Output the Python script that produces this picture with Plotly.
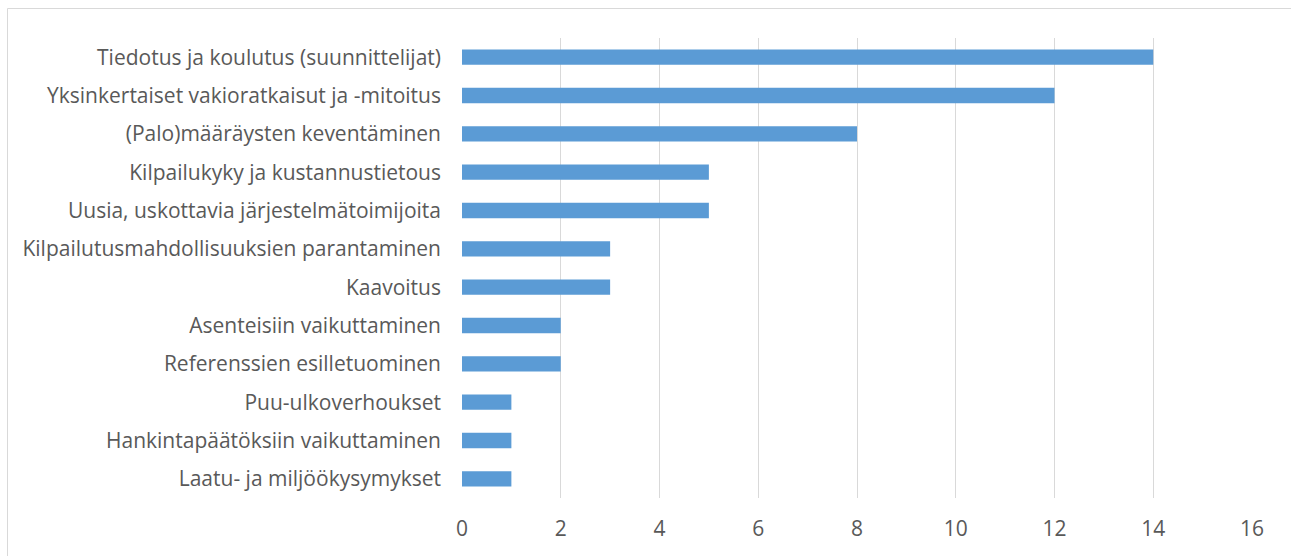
import plotly.graph_objects as go

categories = [
    "Tiedotus ja koulutus (suunnittelijat)",
    "Yksinkertaiset vakioratkaisut ja -mitoitus",
    "(Palo)määräysten keventäminen",
    "Kilpailukyky ja kustannustietous",
    "Uusia, uskottavia järjestelmätoimijoita",
    "Kilpailutusmahdollisuuksien parantaminen",
    "Kaavoitus",
    "Asenteisiin vaikuttaminen",
    "Referenssien esilletuominen",
    "Puu-ulkoverhoukset",
    "Hankintapäätöksiin vaikuttaminen",
    "Laatu- ja miljöökysymykset",
]
values = [14, 12, 8, 5, 5, 3, 3, 2, 2, 1, 1, 1]
x_ticks = [0, 2, 4, 6, 8, 10, 12, 14, 16]

fig = go.Figure(go.Bar(
    y=categories, x=values, orientation="h",
    marker=dict(color="#5B9BD5", line=dict(width=0)),
))

W, H = 1291, 556
L, R, T, B = 462, 39, 38, 58

fig.update_layout(
    width=W, height=H,
    margin=dict(l=L, r=R, t=T, b=B),
    paper_bgcolor="white", plot_bgcolor="white",
    bargap=0.6,
    font=dict(family="Open Sans, sans-serif", size=21, color="#595959"),
    showlegend=False,
    xaxis=dict(range=[0, 16], tickvals=x_ticks, showgrid=True, gridcolor="#D9D9D9",
               gridwidth=1, zeroline=False, showline=False, ticks="",
               ticklabelstandoff=16, fixedrange=True),
    yaxis=dict(autorange="reversed", showgrid=False, zeroline=False, showline=False,
               ticks="", ticklabelstandoff=20, fixedrange=True),
    shapes=[dict(type="rect", xref="paper", yref="paper",
                 x0=-(L - 7.5) / (W - L - R), x1=(W - L + 20) / (W - L - R),
                 y0=-(B + 20) / (H - T - B), y1=1 + (T - 8.5) / (H - T - B),
                 line=dict(color="#D9D9D9", width=1), layer="below")],
)
fig.write_html("out.html")
